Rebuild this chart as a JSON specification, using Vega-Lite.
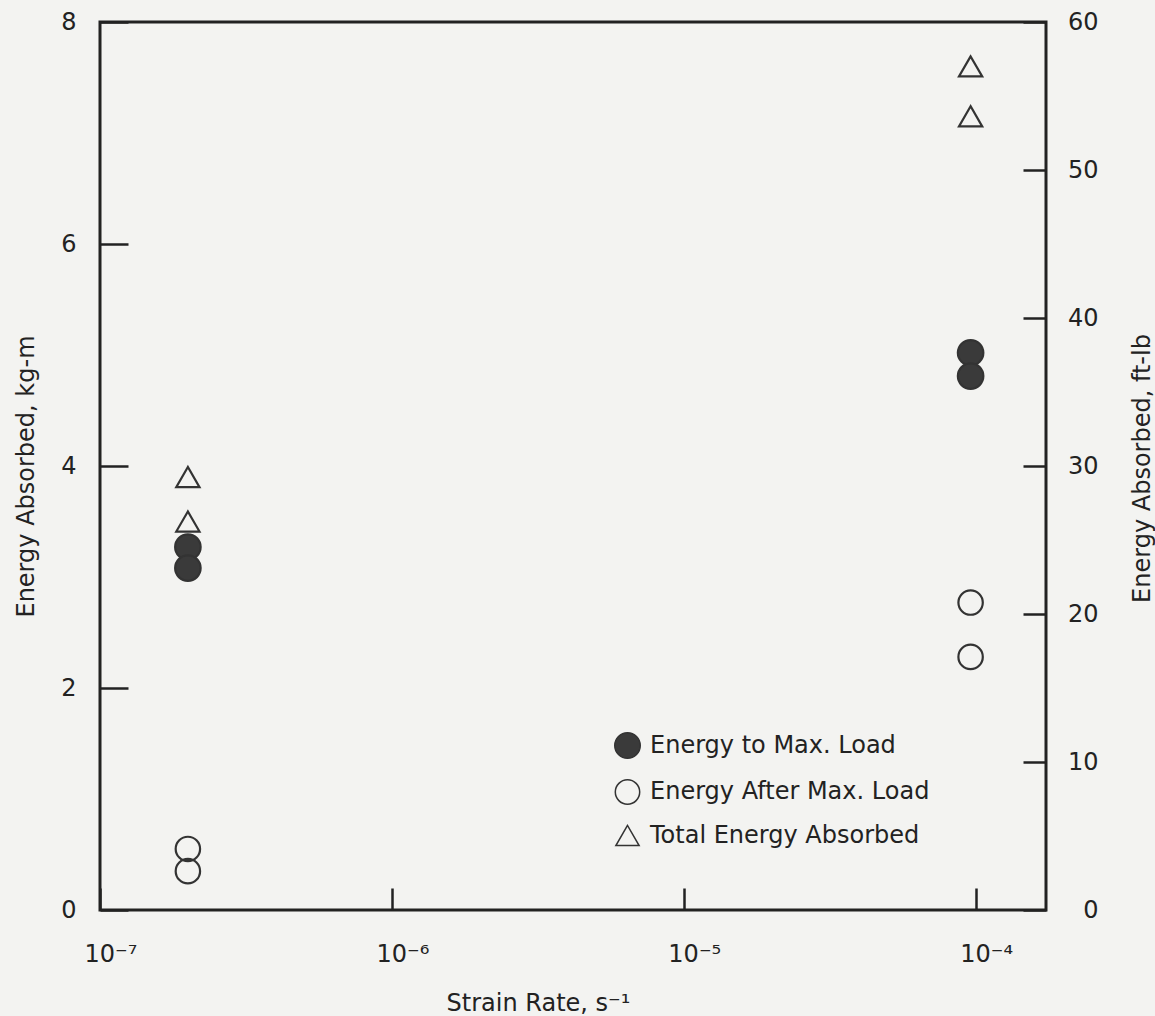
{
  "$schema": "https://vega.github.io/schema/vega-lite/v6.json",
  "usermeta": {"embedOptions": {"actions": false}},
  "autosize": {"type": "none"},
  "padding": {"left": 100, "top": 22, "right": 109, "bottom": 106},
  "width": 946,
  "height": 888,
  "background": "#f3f3f1",
  "config": {
    "view": {"stroke": "#222", "strokeWidth": 3},
    "font": "DejaVu Sans",
    "axis": {
      "domain": false,
      "grid": false,
      "labelFont": "DejaVu Sans",
      "labelFontSize": 24,
      "labelColor": "#222",
      "titleFont": "DejaVu Sans",
      "titleFontSize": 24,
      "titleFontWeight": "normal",
      "titleColor": "#222",
      "tickColor": "#222",
      "tickWidth": 2.5
    },
    "legend": {
      "labelFont": "DejaVu Sans",
      "labelFontSize": 24,
      "labelColor": "#222",
      "labelLimit": 500
    }
  },
  "data": {
    "values": [
      {"rate": 2e-7, "series": "Total Energy Absorbed", "kgm": 3.9, "ftlb": 28.9},
      {"rate": 2e-7, "series": "Total Energy Absorbed", "kgm": 3.5, "ftlb": 25.9},
      {"rate": 2e-7, "series": "Energy to Max. Load", "kgm": 3.27, "ftlb": 24.2},
      {"rate": 2e-7, "series": "Energy to Max. Load", "kgm": 3.08, "ftlb": 22.8},
      {"rate": 2e-7, "series": "Energy After Max. Load", "kgm": 0.55, "ftlb": 4.1},
      {"rate": 2e-7, "series": "Energy After Max. Load", "kgm": 0.35, "ftlb": 2.6},
      {"rate": 9.6e-5, "series": "Total Energy Absorbed", "kgm": 7.6, "ftlb": 56.9},
      {"rate": 9.6e-5, "series": "Total Energy Absorbed", "kgm": 7.15, "ftlb": 53.4},
      {"rate": 9.6e-5, "series": "Energy to Max. Load", "kgm": 5.02, "ftlb": 37.2},
      {"rate": 9.6e-5, "series": "Energy to Max. Load", "kgm": 4.81, "ftlb": 35.6},
      {"rate": 9.6e-5, "series": "Energy After Max. Load", "kgm": 2.77, "ftlb": 20.4},
      {"rate": 9.6e-5, "series": "Energy After Max. Load", "kgm": 2.28, "ftlb": 16.8}
    ]
  },
  "encoding": {
    "x": {
      "field": "rate",
      "type": "quantitative",
      "scale": {"type": "log", "domain": [1e-7, 1.74e-4], "nice": false},
      "axis": {
        "values": [1e-7, 1e-6, 1e-5, 1e-4],
        "labelExpr": "datum.value < 5e-7 ? '10⁻⁷' : datum.value < 5e-6 ? '10⁻⁶' : datum.value < 5e-5 ? '10⁻⁵' : '10⁻⁴'",
        "tickSize": -22,
        "labelPadding": 73,
        "labelBaseline": "alphabetic",
        "labelAlign": "left",
        "labelOffset": -16,
        "labelFlush": false,
        "title": "Strain Rate, s⁻¹",
        "titleX": 438,
        "titleY": 100,
        "titleBaseline": "alphabetic",
        "titleAlign": "center"
      }
    }
  },
  "layer": [
    {
      "mark": {"type": "point", "filled": true, "stroke": "#333", "strokeWidth": 2.2, "opacity": 1},
      "encoding": {
        "y": {
          "field": "kgm",
          "type": "quantitative",
          "scale": {"domain": [0, 8], "nice": false},
          "axis": {
            "orient": "left",
            "values": [0, 2, 4, 6, 8],
            "tickSize": -28,
            "labelPadding": 52,
            "labelAlign": "right",
            "labelBaseline": "middle",
            "labelFlush": false,
            "title": "Energy Absorbed, kg-m",
            "titleAngle": 270,
            "titleX": -67,
            "titleY": 454,
            "titleBaseline": "alphabetic",
            "titleAlign": "center"
          }
        },
        "shape": {
          "field": "series",
          "type": "nominal",
          "scale": {
            "domain": ["Energy to Max. Load", "Energy After Max. Load", "Total Energy Absorbed"],
            "range": ["circle", "circle", "triangle-up"]
          },
          "legend": {
            "title": null,
            "orient": "none",
            "legendX": 514,
            "legendY": 710,
            "padding": 0,
            "rowPadding": 14,
            "labelOffset": 9,
            "encode": {"symbols": {"update": {"stroke": {"value": "#333"}, "strokeWidth": {"value": 2.2}, "opacity": {"value": 1}}}}
          }
        },
        "fill": {
          "field": "series",
          "type": "nominal",
          "scale": {
            "domain": ["Energy to Max. Load", "Energy After Max. Load", "Total Energy Absorbed"],
            "range": ["#3a3a3a", "transparent", "transparent"]
          },
          "legend": {
            "title": null,
            "orient": "none",
            "legendX": 514,
            "legendY": 710,
            "padding": 0,
            "rowPadding": 14,
            "labelOffset": 9,
            "encode": {"symbols": {"update": {"stroke": {"value": "#333"}, "strokeWidth": {"value": 2.2}, "opacity": {"value": 1}}}}
          }
        },
        "size": {
          "field": "series",
          "type": "nominal",
          "scale": {
            "domain": ["Energy to Max. Load", "Energy After Max. Load", "Total Energy Absorbed"],
            "range": [650, 540, 850]
          },
          "legend": {
            "title": null,
            "orient": "none",
            "legendX": 514,
            "legendY": 710,
            "padding": 0,
            "rowPadding": 14,
            "labelOffset": 9,
            "encode": {"symbols": {"update": {"stroke": {"value": "#333"}, "strokeWidth": {"value": 2.2}, "opacity": {"value": 1}}}}
          }
        }
      }
    },
    {
      "mark": {"type": "point", "opacity": 0},
      "encoding": {
        "y": {
          "field": "ftlb",
          "type": "quantitative",
          "scale": {"domain": [0, 60], "nice": false},
          "axis": {
            "orient": "right",
            "values": [0, 10, 20, 30, 40, 50, 60],
            "tickSize": -23,
            "labelPadding": 75,
            "labelAlign": "right",
            "labelBaseline": "middle",
            "labelFlush": false,
            "title": "Energy Absorbed, ft-lb",
            "titleAngle": 270,
            "titleX": 103,
            "titleY": 446,
            "titleBaseline": "alphabetic",
            "titleAlign": "center"
          }
        }
      }
    }
  ],
  "resolve": {"scale": {"y": "independent"}, "axis": {"y": "independent"}}
}
